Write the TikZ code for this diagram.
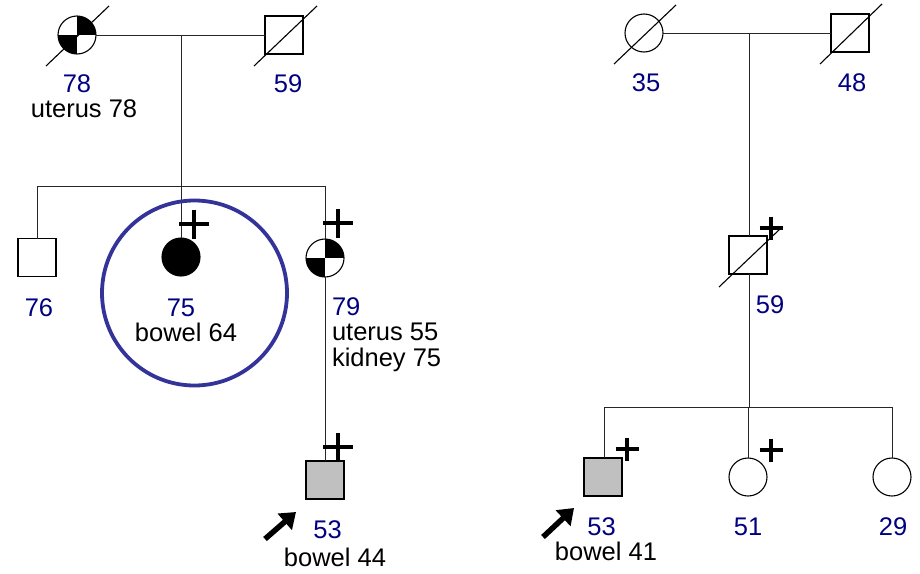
\documentclass[tikz,border=0pt]{standalone}
\usepackage{fontspec}
\setmainfont{Liberation Sans}
\usetikzlibrary{arrows.meta}
\definecolor{agecol}{HTML}{000080}
\definecolor{ringcol}{HTML}{333399}
\definecolor{affgray}{HTML}{C0C0C0}
\begin{document}
\begin{tikzpicture}[x=1pt,y=-1pt,
  every node/.style={inner sep=0pt,outer sep=0pt},
  person/.style={draw,line width=1.1pt,fill=white,minimum size=38pt},
  male/.style={person,rectangle},
  female/.style={person,circle},
  affected/.style={fill=black},
  carrier/.style={fill=affgray},
  quartered/.style={path picture={
     \fill[black] (path picture bounding box.center) rectangle (path picture bounding box.north east);
     \fill[black] (path picture bounding box.center) rectangle (path picture bounding box.south west);}},
  connector/.style={line width=1pt,draw=black!85},
  slash/.style={line width=1.1pt},
  age/.style={text=agecol,font=\fontsize{25.5}{30}\selectfont,anchor=base},
  note/.style={font=\fontsize{25.5}{30}\selectfont,anchor=base},
  proband/.style={line width=5.5pt,-{Triangle[length=15pt,width=21pt]}},
  ring/.style={draw=ringcol,line width=3.8pt,circle,minimum size=185pt},
  bigplus/.pic={\draw[line width=4.5pt] (-15,0)--(15,0) (0,-14.5)--(0,14.5);},
  smallplus/.pic={\draw[line width=3.8pt] (-11.5,0)--(11.5,0) (0,-11.5)--(0,11.5);}
]
\useasboundingbox (0,0) rectangle (920,573);

% ---------- left family ----------
\node[female,quartered] (lgm) at (77,35) {};
\node[male] (lgf) at (284,35) {};
\coordinate (lmid) at (181,35);
\coordinate (ldrop) at (181,186);
\coordinate (lsibL) at (37,186);
\coordinate (lsibR) at (325,186);
\node[male] (l76) at (37,257.5) {};
\node[female,affected] (l75) at (181,257) {};
\node[female,quartered] (l79) at (325,258) {};
\node[male,carrier] (l53) at (325,480) {};

\draw[connector] (lgm.east) -- (lgf.west);
\draw[connector] (lmid) -- (ldrop);
\draw[connector] (lsibL) -- (lsibR);
\draw[connector] (lsibL) -- (l76.north);
\draw[connector] (ldrop) -- (l75.north);
\draw[connector] (lsibR) -- (l79.north);
\draw[connector] (l79.south) -- (l53.north);

\draw[slash] ([shift={(-31,31)}]lgm.center) -- ([shift={(32,-29)}]lgm.center);
\draw[slash] ([shift={(-30,31)}]lgf.center) -- ([shift={(33,-29)}]lgf.center);

\node[ring] (lring) at (194.5,293) {};

\pic at (194,224) {bigplus};
\pic at (338,223) {bigplus};
\pic at (338,447) {bigplus};

\node[age] (a78) at (77,92) {78};
\node[note] (t78) at (84,117) {uterus 78};
\node[age] (a59) at (288,92) {59};
\node[age] (a76) at (39,316) {76};
\node[age] (a75) at (181,316) {75};
\node[note] (t75) at (186,341) {bowel 64};
\node[age,anchor=base west] (a79) at (332,315) {79};
\node[note,anchor=base west] (t79a) at (332,340) {uterus 55};
\node[note,anchor=base west] (t79b) at (332,366) {kidney 75};
\node[age] (a53) at (327.5,538) {53};
\node[note] (t53) at (335,566) {bowel 44};

\coordinate (larrtail) at (265,539);
\coordinate (larrtip) at (296,512);
\draw[proband] (larrtail) -- (larrtip);

% ---------- right family ----------
\node[female] (rgm) at (644,33) {};
\node[male] (rgf) at (850,33) {};
\coordinate (rmid) at (749,33);
\node[male] (r59) at (748,255) {};
\coordinate (rsib) at (749,407);
\coordinate (rsibL) at (604,407);
\coordinate (rsibR) at (892,407);
\node[male,carrier] (r53) at (603,477) {};
\node[female] (r51) at (748,477) {};
\node[female] (r29) at (892,477) {};

\draw[connector] (rgm.east) -- (rgf.west);
\draw[connector] (rmid) -- (rmid |- r59.north);
\draw[connector] (rmid |- r59.south) -- (rsib);
\draw[connector] (rsibL) -- (rsibR);
\draw[connector] (rsibL) -- (rsibL |- r53.north);
\draw[connector] (r51.north) -- (r51.north |- rsib);
\draw[connector] (r29.north) -- (r29.north |- rsib);

\draw[slash] ([shift={(-30,31)}]rgm.center) -- ([shift={(32,-28)}]rgm.center);
\draw[slash] ([shift={(-30,31)}]rgf.center) -- ([shift={(32,-29)}]rgf.center);
\draw[slash] ([shift={(-29,32)}]r59.center) -- ([shift={(32,-26)}]r59.center);

\pic at (771,228) {smallplus};
\pic at (627,449) {smallplus};
\pic at (771,450) {smallplus};

\node[age] (b35) at (646,91) {35};
\node[age] (b48) at (852,91) {48};
\node[age] (b59) at (770,313.5) {59};
\node[age] (b53) at (601.5,535) {53};
\node[note] (u53) at (606,560) {bowel 41};
\node[age] (b51) at (748,535) {51};
\node[age] (b29) at (893,535) {29};

\coordinate (rarrtail) at (543,537);
\coordinate (rarrtip) at (574,508);
\draw[proband] (rarrtail) -- (rarrtip);
\end{tikzpicture}
\end{document}
